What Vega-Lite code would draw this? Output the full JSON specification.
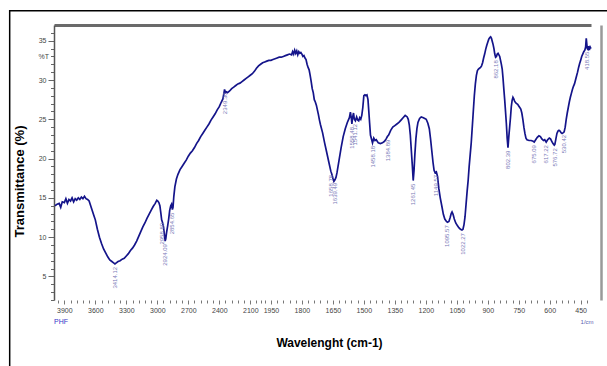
{
  "$schema": "https://vega.github.io/schema/vega-lite/v6.json",
  "width": 537,
  "height": 275,
  "autosize": {"type": "none"},
  "padding": {"left": 54, "top": 25, "right": 16, "bottom": 66},
  "background": "white",
  "config": {"view": {"stroke": null}, "font": "Liberation Sans"},
  "datasets": {
    "spectrum": [
      {"wn":3990,"T":14.0},{"wn":3970,"T":14.2},{"wn":3950,"T":14.3},{"wn":3935,"T":13.8},{"wn":3920,"T":14.5},{"wn":3900,"T":14.4},{"wn":3885,"T":14.9},{"wn":3870,"T":14.3},{"wn":3855,"T":14.8},{"wn":3840,"T":14.6},{"wn":3825,"T":15.0},{"wn":3810,"T":14.5},{"wn":3795,"T":14.9},{"wn":3780,"T":14.7},{"wn":3765,"T":15.0},{"wn":3750,"T":14.8},{"wn":3735,"T":15.1},{"wn":3720,"T":14.9},{"wn":3705,"T":15.2},{"wn":3690,"T":14.9},{"wn":3675,"T":14.8},{"wn":3660,"T":14.6},{"wn":3645,"T":14.0},{"wn":3630,"T":13.4},{"wn":3615,"T":12.8},{"wn":3600,"T":12.2},{"wn":3580,"T":11.0},{"wn":3560,"T":10.0},{"wn":3540,"T":9.2},{"wn":3520,"T":8.5},{"wn":3500,"T":8.0},{"wn":3480,"T":7.5},{"wn":3460,"T":7.1},{"wn":3440,"T":6.9},{"wn":3420,"T":6.7},{"wn":3410,"T":6.6},{"wn":3400,"T":6.7},{"wn":3380,"T":6.9},{"wn":3360,"T":7.0},{"wn":3340,"T":7.2},{"wn":3320,"T":7.3},{"wn":3300,"T":7.6},{"wn":3280,"T":7.9},{"wn":3260,"T":8.3},{"wn":3240,"T":8.6},{"wn":3220,"T":9.0},{"wn":3200,"T":9.5},{"wn":3180,"T":10.1},{"wn":3160,"T":10.7},{"wn":3140,"T":11.3},{"wn":3120,"T":11.8},{"wn":3100,"T":12.4},{"wn":3080,"T":12.9},{"wn":3060,"T":13.4},{"wn":3040,"T":13.9},{"wn":3020,"T":14.3},{"wn":3005,"T":14.7},{"wn":2995,"T":14.6},{"wn":2985,"T":14.4},{"wn":2975,"T":14.0},{"wn":2965,"T":13.0},{"wn":2958,"T":12.2},{"wn":2950,"T":11.9},{"wn":2940,"T":11.3},{"wn":2930,"T":10.2},{"wn":2924,"T":9.5},{"wn":2918,"T":9.8},{"wn":2910,"T":10.6},{"wn":2900,"T":11.4},{"wn":2890,"T":12.3},{"wn":2880,"T":13.4},{"wn":2870,"T":14.0},{"wn":2862,"T":14.2},{"wn":2854,"T":13.5},{"wn":2848,"T":13.8},{"wn":2840,"T":15.2},{"wn":2830,"T":16.4},{"wn":2815,"T":17.4},{"wn":2800,"T":18.0},{"wn":2780,"T":18.6},{"wn":2760,"T":19.0},{"wn":2740,"T":19.4},{"wn":2720,"T":19.8},{"wn":2700,"T":20.3},{"wn":2680,"T":20.7},{"wn":2660,"T":21.0},{"wn":2640,"T":21.4},{"wn":2620,"T":21.9},{"wn":2600,"T":22.3},{"wn":2580,"T":22.8},{"wn":2560,"T":23.2},{"wn":2540,"T":23.6},{"wn":2520,"T":24.0},{"wn":2500,"T":24.4},{"wn":2480,"T":24.9},{"wn":2460,"T":25.3},{"wn":2440,"T":25.7},{"wn":2420,"T":26.2},{"wn":2400,"T":26.6},{"wn":2380,"T":27.2},{"wn":2365,"T":27.6},{"wn":2355,"T":28.3},{"wn":2349,"T":28.8},{"wn":2340,"T":28.4},{"wn":2330,"T":28.5},{"wn":2320,"T":28.4},{"wn":2300,"T":28.6},{"wn":2280,"T":28.9},{"wn":2260,"T":29.1},{"wn":2240,"T":29.3},{"wn":2220,"T":29.5},{"wn":2200,"T":29.6},{"wn":2180,"T":29.8},{"wn":2160,"T":30.0},{"wn":2140,"T":30.2},{"wn":2120,"T":30.4},{"wn":2100,"T":30.6},{"wn":2080,"T":30.8},{"wn":2060,"T":31.1},{"wn":2040,"T":31.5},{"wn":2020,"T":31.8},{"wn":2000,"T":32.0},{"wn":1990,"T":32.2},{"wn":1980,"T":32.3},{"wn":1970,"T":32.4},{"wn":1960,"T":32.5},{"wn":1950,"T":32.5},{"wn":1940,"T":32.6},{"wn":1930,"T":32.7},{"wn":1920,"T":32.8},{"wn":1910,"T":32.9},{"wn":1900,"T":32.9},{"wn":1890,"T":33.0},{"wn":1880,"T":33.1},{"wn":1870,"T":33.2},{"wn":1860,"T":33.3},{"wn":1850,"T":33.2},{"wn":1845,"T":33.6},{"wn":1840,"T":33.3},{"wn":1835,"T":33.8},{"wn":1830,"T":33.4},{"wn":1825,"T":33.7},{"wn":1820,"T":33.2},{"wn":1815,"T":33.6},{"wn":1810,"T":33.4},{"wn":1805,"T":33.5},{"wn":1800,"T":33.3},{"wn":1795,"T":33.0},{"wn":1790,"T":33.1},{"wn":1785,"T":32.8},{"wn":1780,"T":32.6},{"wn":1775,"T":32.0},{"wn":1770,"T":31.6},{"wn":1765,"T":31.3},{"wn":1760,"T":30.6},{"wn":1755,"T":29.8},{"wn":1750,"T":28.9},{"wn":1745,"T":28.4},{"wn":1740,"T":27.5},{"wn":1735,"T":27.2},{"wn":1730,"T":26.8},{"wn":1725,"T":26.2},{"wn":1720,"T":25.6},{"wn":1715,"T":24.9},{"wn":1710,"T":24.3},{"wn":1700,"T":23.3},{"wn":1690,"T":22.0},{"wn":1680,"T":20.8},{"wn":1670,"T":19.6},{"wn":1660,"T":18.4},{"wn":1655,"T":18.0},{"wn":1650,"T":17.5},{"wn":1645,"T":17.1},{"wn":1640,"T":17.3},{"wn":1635,"T":17.6},{"wn":1630,"T":18.2},{"wn":1620,"T":19.8},{"wn":1610,"T":21.4},{"wn":1600,"T":22.8},{"wn":1590,"T":23.8},{"wn":1580,"T":24.6},{"wn":1570,"T":25.2},{"wn":1565,"T":25.9},{"wn":1560,"T":25.0},{"wn":1558,"T":24.4},{"wn":1554,"T":25.3},{"wn":1550,"T":25.8},{"wn":1546,"T":25.0},{"wn":1541,"T":24.8},{"wn":1535,"T":25.3},{"wn":1530,"T":24.9},{"wn":1525,"T":24.8},{"wn":1520,"T":25.2},{"wn":1515,"T":25.0},{"wn":1510,"T":25.5},{"wn":1505,"T":26.5},{"wn":1500,"T":28.0},{"wn":1495,"T":28.1},{"wn":1490,"T":28.0},{"wn":1485,"T":28.1},{"wn":1480,"T":27.5},{"wn":1476,"T":26.0},{"wn":1472,"T":24.5},{"wn":1468,"T":23.0},{"wn":1462,"T":22.4},{"wn":1458,"T":22.0},{"wn":1452,"T":22.6},{"wn":1446,"T":22.3},{"wn":1440,"T":22.4},{"wn":1430,"T":22.0},{"wn":1420,"T":21.9},{"wn":1410,"T":22.0},{"wn":1400,"T":22.2},{"wn":1392,"T":22.5},{"wn":1386,"T":22.8},{"wn":1380,"T":23.0},{"wn":1370,"T":23.6},{"wn":1360,"T":24.0},{"wn":1350,"T":24.2},{"wn":1340,"T":24.4},{"wn":1330,"T":24.6},{"wn":1320,"T":24.9},{"wn":1310,"T":25.2},{"wn":1300,"T":25.5},{"wn":1295,"T":25.4},{"wn":1290,"T":25.3},{"wn":1285,"T":25.0},{"wn":1280,"T":24.3},{"wn":1275,"T":23.0},{"wn":1270,"T":21.0},{"wn":1265,"T":19.0},{"wn":1261,"T":17.2},{"wn":1257,"T":18.5},{"wn":1253,"T":20.5},{"wn":1248,"T":22.5},{"wn":1243,"T":23.8},{"wn":1238,"T":24.6},{"wn":1230,"T":25.1},{"wn":1222,"T":25.3},{"wn":1212,"T":25.2},{"wn":1205,"T":25.1},{"wn":1198,"T":25.0},{"wn":1190,"T":24.5},{"wn":1183,"T":23.8},{"wn":1177,"T":22.5},{"wn":1171,"T":21.0},{"wn":1165,"T":19.5},{"wn":1160,"T":18.5},{"wn":1155,"T":18.2},{"wn":1149,"T":18.3},{"wn":1143,"T":17.7},{"wn":1137,"T":16.2},{"wn":1130,"T":15.0},{"wn":1122,"T":13.9},{"wn":1115,"T":12.9},{"wn":1108,"T":12.3},{"wn":1100,"T":12.0},{"wn":1095,"T":11.9},{"wn":1088,"T":12.0},{"wn":1082,"T":12.5},{"wn":1077,"T":13.0},{"wn":1073,"T":13.2},{"wn":1068,"T":12.9},{"wn":1062,"T":12.3},{"wn":1055,"T":11.8},{"wn":1048,"T":11.5},{"wn":1040,"T":11.2},{"wn":1032,"T":11.0},{"wn":1025,"T":10.9},{"wn":1020,"T":11.0},{"wn":1015,"T":11.6},{"wn":1010,"T":12.6},{"wn":1005,"T":14.2},{"wn":1000,"T":15.8},{"wn":995,"T":17.2},{"wn":990,"T":19.0},{"wn":985,"T":20.5},{"wn":980,"T":22.0},{"wn":975,"T":24.0},{"wn":970,"T":26.0},{"wn":965,"T":28.0},{"wn":960,"T":29.5},{"wn":955,"T":30.6},{"wn":950,"T":31.2},{"wn":945,"T":31.4},{"wn":940,"T":31.5},{"wn":935,"T":31.6},{"wn":930,"T":31.8},{"wn":925,"T":32.2},{"wn":920,"T":32.8},{"wn":915,"T":33.3},{"wn":910,"T":33.9},{"wn":905,"T":34.4},{"wn":900,"T":34.8},{"wn":895,"T":35.2},{"wn":890,"T":35.4},{"wn":886,"T":35.5},{"wn":882,"T":35.3},{"wn":878,"T":34.9},{"wn":874,"T":34.5},{"wn":870,"T":34.0},{"wn":866,"T":33.3},{"wn":862,"T":32.9},{"wn":858,"T":33.0},{"wn":854,"T":33.3},{"wn":850,"T":33.4},{"wn":846,"T":33.2},{"wn":842,"T":33.0},{"wn":838,"T":32.5},{"wn":834,"T":32.0},{"wn":830,"T":31.4},{"wn":826,"T":30.2},{"wn":822,"T":28.8},{"wn":818,"T":27.5},{"wn":814,"T":26.0},{"wn":810,"T":24.5},{"wn":806,"T":22.6},{"wn":802,"T":21.4},{"wn":798,"T":22.8},{"wn":794,"T":24.0},{"wn":790,"T":25.2},{"wn":786,"T":26.6},{"wn":782,"T":27.4},{"wn":778,"T":27.8},{"wn":774,"T":27.6},{"wn":770,"T":27.3},{"wn":765,"T":27.1},{"wn":760,"T":27.0},{"wn":755,"T":26.9},{"wn":750,"T":26.7},{"wn":745,"T":26.5},{"wn":740,"T":26.3},{"wn":735,"T":25.8},{"wn":730,"T":25.0},{"wn":725,"T":24.0},{"wn":720,"T":23.2},{"wn":715,"T":22.6},{"wn":710,"T":22.4},{"wn":700,"T":22.3},{"wn":690,"T":22.3},{"wn":680,"T":22.2},{"wn":675,"T":22.1},{"wn":668,"T":22.4},{"wn":660,"T":22.7},{"wn":652,"T":22.9},{"wn":645,"T":22.8},{"wn":638,"T":22.5},{"wn":630,"T":22.3},{"wn":624,"T":22.4},{"wn":617,"T":22.1},{"wn":610,"T":22.4},{"wn":602,"T":22.6},{"wn":596,"T":22.5},{"wn":590,"T":22.2},{"wn":584,"T":21.9},{"wn":578,"T":21.7},{"wn":575,"T":21.8},{"wn":570,"T":22.5},{"wn":565,"T":23.2},{"wn":560,"T":23.5},{"wn":555,"T":23.6},{"wn":550,"T":23.5},{"wn":545,"T":23.3},{"wn":540,"T":23.2},{"wn":534,"T":23.3},{"wn":530,"T":23.4},{"wn":525,"T":24.0},{"wn":520,"T":25.0},{"wn":515,"T":25.8},{"wn":510,"T":26.5},{"wn":505,"T":27.2},{"wn":500,"T":27.8},{"wn":495,"T":28.3},{"wn":490,"T":28.8},{"wn":485,"T":29.2},{"wn":480,"T":29.5},{"wn":475,"T":30.0},{"wn":470,"T":30.5},{"wn":465,"T":31.0},{"wn":460,"T":31.6},{"wn":455,"T":32.1},{"wn":450,"T":32.5},{"wn":445,"T":33.0},{"wn":440,"T":33.3},{"wn":435,"T":33.6},{"wn":430,"T":33.8},{"wn":426,"T":34.2},{"wn":423,"T":35.3},{"wn":420,"T":34.5},{"wn":418,"T":34.0},{"wn":415,"T":33.9},{"wn":412,"T":34.3},{"wn":408,"T":33.8},{"wn":404,"T":34.2},{"wn":400,"T":34.0}
    ],
    "peaks": [
      {"wn":3414,"T":6.6,"label":"3414.12"},
      {"wn":2958,"T":12.2,"label":"2958.80"},
      {"wn":2924,"T":9.5,"label":"2924.09"},
      {"wn":2854,"T":13.5,"label":"2854.65"},
      {"wn":2349,"T":28.8,"label":"2349.30"},
      {"wn":1658,"T":18.3,"label":"1658.78"},
      {"wn":1639,"T":17.3,"label":"1639.49"},
      {"wn":1558,"T":24.4,"label":"1558.48"},
      {"wn":1541,"T":24.8,"label":"1541.12"},
      {"wn":1458,"T":22.0,"label":"1458.18"},
      {"wn":1384,"T":22.8,"label":"1384.89"},
      {"wn":1261,"T":17.2,"label":"1261.45"},
      {"wn":1149,"T":18.3,"label":"1149.57"},
      {"wn":1095,"T":11.9,"label":"1095.57"},
      {"wn":1022,"T":10.9,"label":"1022.27"},
      {"wn":862,"T":32.9,"label":"862.18"},
      {"wn":802,"T":21.4,"label":"802.39"},
      {"wn":675,"T":22.1,"label":"675.09"},
      {"wn":617,"T":22.1,"label":"617.22"},
      {"wn":576,"T":21.7,"label":"576.72"},
      {"wn":530,"T":23.4,"label":"530.42"},
      {"wn":418,"T":34.0,"label":"418.55"}
    ]
  },
  "layer": [
    {
      "data": {"values": [{}]},
      "mark": {"type": "rect", "fill": null, "stroke": "#000000", "strokeWidth": 1.5},
      "encoding": {"x": {"datum": 4429, "axis": null}, "x2": {"datum": 300}, "y": {"datum": 38.8, "axis": null}, "y2": {"datum": -12}}
    },
    {
      "data": {"name": "spectrum"},
      "mark": {"type": "line", "color": "#14148a", "strokeWidth": 1.7},
      "encoding": {
        "x": {
          "field": "wn", "type": "quantitative",
          "scale": {"domain": [4000, 2000, 400], "range": [0, 206.6, 537], "nice": false, "zero": false},
          "axis": {
            "orient": "bottom", "title": "Wavelenght (cm-1)", "titleFontSize": 12, "titleFontWeight": "bold", "titleColor": "#000000", "titlePadding": 24, "titleX": 275,
            "domain": false, "grid": false, "format": "d",
            "values": [3960,3900,3840,3780,3720,3660,3600,3540,3480,3420,3360,3300,3240,3180,3120,3060,3000,2940,2880,2820,2760,2700,2640,2580,2520,2460,2400,2340,2280,2220,2160,2100,2040,2000,1980,1950,1920,1890,1860,1830,1800,1770,1740,1710,1680,1650,1620,1590,1560,1530,1500,1470,1440,1410,1380,1350,1320,1290,1260,1230,1200,1170,1140,1110,1080,1050,1020,990,960,930,900,870,840,810,780,750,720,690,660,630,600,570,540,510,480,450,420],
            "labelExpr": "indexof([3900,3600,3300,3000,2700,2400,2100,1950,1800,1650,1500,1350,1200,1050,900,750,600,450], datum.value) >= 0 ? datum.label : ''",
            "labelOverlap": false, "labelFontSize": 7, "labelColor": "#444444", "labelPadding": 2, "labelFlush": false,
            "tickColor": "#777777", "tickWidth": 1,
            "tickSize": {"condition": {"test": "indexof([3900,3600,3300,3000,2700,2400,2100,1950,1800,1650,1500,1350,1200,1050,900,750,600,450], datum.value) >= 0", "value": 4}, "value": 3}
          }
        },
        "y": {
          "field": "T", "type": "quantitative",
          "scale": {"domain": [2, 37], "nice": false, "zero": false},
          "axis": {
            "orient": "left", "title": "Transmittance (%)", "titleFontSize": 13, "titleFontWeight": "bold", "titleColor": "#000000", "titlePadding": 12, "titleY": 156,
            "grid": false, "format": "d",
            "values": [2,3,4,5,6,7,8,9,10,11,12,13,14,15,16,17,18,19,20,21,22,23,24,25,26,27,28,29,30,31,32,33,34,35,36],
            "labelExpr": "datum.value == 33 ? '%T' : (datum.value % 5 == 0 ? datum.label : '')",
            "labelOverlap": false, "labelFontSize": 7, "labelColor": "#444444", "labelPadding": 2, "labelFlush": false,
            "domainColor": "#555555", "domainWidth": 1.5, "tickColor": "#666666",
            "tickSize": {"condition": {"test": "datum.value % 5 == 0", "value": 6}, "value": 3.5}
          }
        }
      }
    },
    {
      "data": {"name": "peaks"},
      "mark": {"type": "text", "angle": 270, "align": "right", "baseline": "middle", "dx": -3, "fontSize": 6, "color": "#7a7ab8"},
      "encoding": {
        "x": {"field": "wn", "type": "quantitative", "axis": {"orient": "top", "title": null, "labels": false, "ticks": false, "grid": false, "domainColor": "#6a6a6a", "domainWidth": 3}},
        "y": {"field": "T", "type": "quantitative", "axis": {"orient": "right", "title": null, "labels": false, "ticks": false, "grid": false, "offset": 10, "domainColor": "#999999", "domainWidth": 2.5}},
        "text": {"field": "label", "type": "nominal"}
      }
    },
    {
      "data": {"values": [{}]},
      "mark": {"type": "text", "align": "left", "baseline": "middle", "fontSize": 7, "color": "#3535c8"},
      "encoding": {"x": {"datum": 4000, "axis": null}, "y": {"datum": -0.8, "axis": null}, "text": {"value": "PHF"}}
    },
    {
      "data": {"values": [{}]},
      "mark": {"type": "text", "align": "center", "baseline": "middle", "fontSize": 6, "color": "#6060b0"},
      "encoding": {"x": {"datum": 419, "axis": null}, "y": {"datum": -0.8, "axis": null}, "text": {"value": "1/cm"}}
    }
  ]
}
